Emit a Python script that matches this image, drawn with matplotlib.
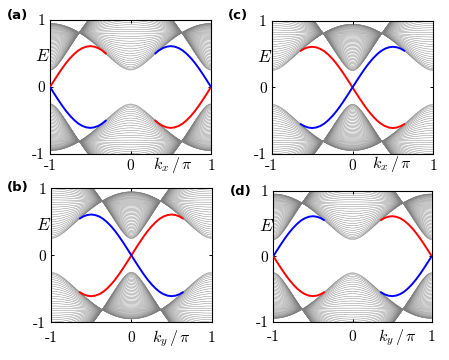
import numpy as np
import matplotlib
matplotlib.use('Agg')
import matplotlib.pyplot as plt
from matplotlib.collections import LineCollection

plt.rcParams['mathtext.fontset'] = 'cm'

# ---------------- data ----------------
panel_labels = ['(a)', '(b)', '(c)', '(d)']
momentum_labels = [r'$k_x\,/\,\pi$', r'$k_y\,/\,\pi$', r'$k_x\,/\,\pi$', r'$k_y\,/\,\pi$']
energy_label = r'$E$'
tick_values = [-1, 0, 1]
tick_labels = ['-1', '0', '1']

# ribbon-band parameters
# (gap 0.25 at k=0 and k=pi, bulk touching points at E = +-0.82)
mass_term = [1.45, 0.95, 0.95, 1.45]      # panels a, b, c, d
velocity_A = 0.6
curvature_B = 0.6
ribbon_width = 50

# edge-state dispersion (k/pi, E)
k_edge = [-1.00, -0.95, -0.90, -0.85, -0.80, -0.75, -0.70, -0.65, -0.60, -0.55,
          -0.50, -0.45, -0.40, -0.35, -0.30, -0.25, -0.20, -0.15, -0.10, -0.05,
          0.00, 0.05, 0.10, 0.15, 0.20, 0.25, 0.30, 0.35, 0.40, 0.45,
          0.50, 0.55, 0.60, 0.65, 0.70, 0.75, 0.80, 0.85, 0.90, 0.95, 1.00]
E_edge = [0.000, 0.095, 0.188, 0.277, 0.359, 0.431, 0.493, 0.544, 0.580, 0.602,
          0.610, 0.602, 0.580, 0.544, 0.493, 0.431, 0.359, 0.277, 0.188, 0.095,
          0.000, -0.095, -0.188, -0.277, -0.359, -0.431, -0.493, -0.544, -0.580, -0.602,
          -0.610, -0.602, -0.580, -0.544, -0.493, -0.431, -0.359, -0.277, -0.188, -0.095,
          0.000]
red_sign = [1, -1, 1, -1]                   # red branch = red_sign * E_edge
edge_region = ['outer', 'inner', 'inner', 'outer']
edge_limit = [0.30, 0.65, 0.65, 0.35]       # |k| where edge states merge with bulk

# ---------------- layout ----------------
W, H = 449, 360
fig = plt.figure(figsize=(W / 100, H / 100), dpi=100)
rects = [[0.1114, 0.5722, 0.3586, 0.3722],
         [0.1136, 0.1047, 0.3580, 0.3720],
         [0.6051, 0.5722, 0.3600, 0.3700],
         [0.6087, 0.1064, 0.3528, 0.3640]]
label_pos = [(0.039, 0.957), (0.039, 0.478), (0.529, 0.958), (0.537, 0.467)]
klabel_pos = [(0.761, -0.112), (0.751, -0.147), (0.742, -0.105), (0.784, -0.153)]
xpad = [4.5, 7.5, 4.5, 7.5]

kk = np.linspace(-1, 1, 801)
qn = np.pi * np.arange(1, ribbon_width + 1) / (ribbon_width + 1)
ke = np.array(k_edge)
Ee = np.array(E_edge)

for i in range(4):
    ax = fig.add_axes(rects[i])
    M = mass_term[i]
    kp = np.pi * kk
    segs = []
    for q in qn:
        E = np.sqrt(velocity_A**2 * (np.sin(kp)**2 + np.sin(q)**2)
                    + (M - curvature_B * (2 - np.cos(kp) - np.cos(q)))**2)
        segs.append(np.column_stack([kk, E]))
        segs.append(np.column_stack([kk, -E]))
    lc = LineCollection(segs, colors='0.5', linewidths=0.32, zorder=1)
    ax.add_collection(lc)

    if edge_region[i] == 'outer':
        mask = np.abs(ke) >= edge_limit[i] - 1e-9
        pieces = [mask & (ke < 0), mask & (ke > 0)]
    else:
        pieces = [np.abs(ke) <= edge_limit[i] + 1e-9]
    for m in pieces:
        ax.plot(ke[m], red_sign[i] * Ee[m], color='#ff0000', lw=1.4, zorder=3,
                solid_capstyle='butt')
        ax.plot(ke[m], -red_sign[i] * Ee[m], color='#0000ff', lw=1.4, zorder=3,
                solid_capstyle='butt')

    ax.set_xlim(-1, 1)
    ax.set_ylim(-1, 1)
    ax.set_xticks(tick_values)
    ax.set_yticks(tick_values)
    ax.set_xticklabels(tick_labels, fontsize=11, fontfamily='cmr10')
    ax.set_yticklabels(tick_labels, fontsize=11, fontfamily='cmr10')
    ax.tick_params(direction='in', length=2.2, width=0.7, top=True, right=True,
                   colors='black')
    ax.tick_params(axis='x', pad=xpad[i] - 1.0)
    ax.tick_params(axis='y', pad=3.5)
    for s in ax.spines.values():
        s.set_linewidth(0.8)
        s.set_color('black')

    ax.text(-0.045, 0.73, energy_label, transform=ax.transAxes, fontsize=12.5,
            ha='center', va='center')
    ax.text(klabel_pos[i][0], klabel_pos[i][1], momentum_labels[i],
            transform=ax.transAxes, fontsize=11.5, ha='center', va='baseline')
    fig.text(label_pos[i][0], label_pos[i][1], panel_labels[i], fontsize=9.5,
             fontweight='bold', family='DejaVu Sans', ha='center', va='center')

fig.savefig('out.png', dpi=100)
